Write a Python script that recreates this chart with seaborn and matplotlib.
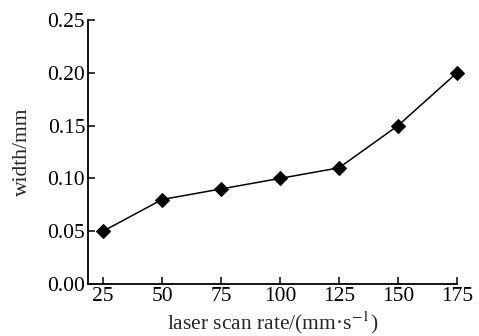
import matplotlib
matplotlib.use("Agg")
import matplotlib.pyplot as plt
import seaborn as sns
import pandas as pd

scan_rate = [25, 50, 75, 100, 125, 150, 175]
width_mm = [0.05, 0.08, 0.09, 0.10, 0.11, 0.15, 0.20]
x_ticks = [25, 50, 75, 100, 125, 150, 175]
y_ticks = [0.00, 0.05, 0.10, 0.15, 0.20, 0.25]

sns.set_theme(style="ticks")
plt.rcParams['font.family'] = ['Liberation Serif', 'DejaVu Serif']
plt.rcParams['mathtext.fontset'] = 'stix'

df = pd.DataFrame({"rate": scan_rate, "width": width_mm})

fig = plt.figure(figsize=(4.79, 3.36), dpi=100)
ax = fig.add_axes([0.1837, 0.1548, 0.954 - 0.1837, 0.9405 - 0.1548])
sns.lineplot(data=df, x="rate", y="width", ax=ax, color="black",
             marker="D", markersize=7.5, markeredgecolor="black",
             linewidth=1.1, clip_on=False)

ax.set_xlim(18.6, 175)
ax.set_ylim(0, 0.25)
ax.set_xticks(x_ticks)
ax.set_yticks(y_ticks)
ax.set_yticklabels([f"{v:.2f}" for v in y_ticks])
ax.tick_params(direction="in", length=5, width=1.1, labelsize=15.5, colors="black")
ax.tick_params(axis="y", pad=2)
ax.tick_params(axis="x", pad=2)
for s in ["top", "right"]:
    ax.spines[s].set_visible(False)
for s in ["left", "bottom"]:
    ax.spines[s].set_linewidth(1.3)
    ax.spines[s].set_color("black")
ax.set_xlabel("laser scan rate/(mm·s$^{-1}$)", fontsize=15.5, labelpad=3)
ax.set_ylabel("width/mm", fontsize=15.5, labelpad=11)

fig.savefig("out.png", dpi=100)
